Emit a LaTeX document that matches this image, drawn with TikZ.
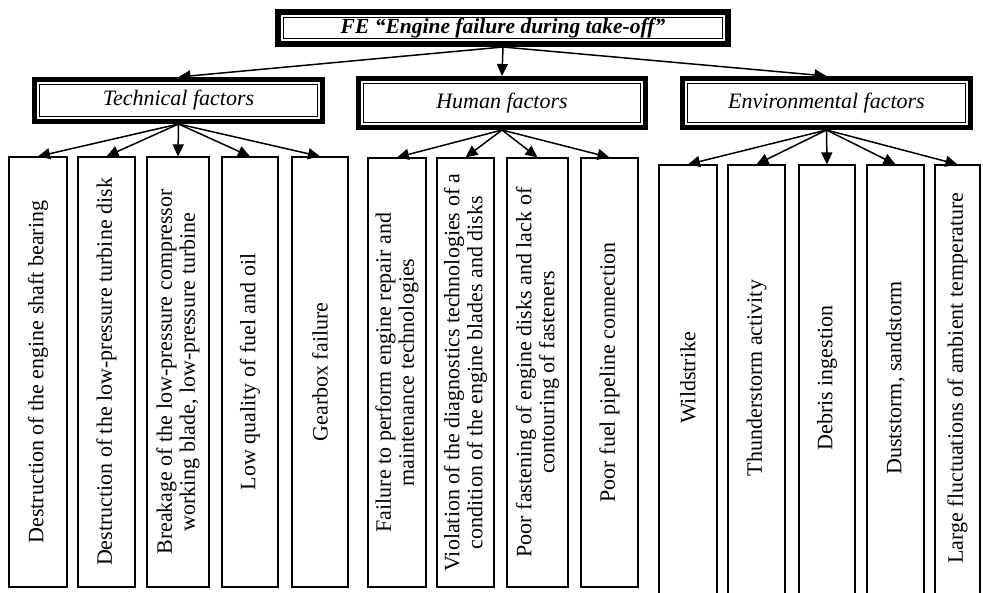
\documentclass[tikz,border=0pt]{standalone}
\usepackage{fontspec}
\setmainfont{Liberation Serif}
\usetikzlibrary{arrows.meta}
\newcommand\innerframe[2]{\draw[line width=0.9pt] ([shift={(#2,-#2)}]#1.north west) rectangle ([shift={(-#2,#2)}]#1.south east);}
\begin{document}
\begin{tikzpicture}[x=1pt,y=-1pt,
  framebox/.style={draw, line width=5pt, fill=white, inner sep=0pt, font=\fontsize{22}{24}\selectfont\itshape},
  topbox/.style={framebox, line width=6pt, font=\fontsize{21.5}{24}\selectfont\bfseries\itshape},
  cbox/.style={draw, line width=1.2pt, inner sep=0pt, minimum width=#1},
  tbox/.style={cbox=#1, minimum height=430},
  hbox/.style={cbox=#1, minimum height=429},
  ebox/.style={cbox=#1, minimum height=435},
  ctext/.style={rotate=90, align=center, inner sep=0pt, font=\fontsize{22}{23}\selectfont},
  arr/.style={line width=1.5pt, -{Triangle[length=12pt,width=11pt]}}]
\useasboundingbox (0,0) rectangle (983,592);
\clip (0,0) rectangle (983,592);
% top and factor boxes
\node[topbox, minimum width=450, minimum height=32] (top) at (503,28) {FE “Engine failure during take-off”};
\node[framebox, minimum width=288, minimum height=42] (tech) at (178.5,100.5) {Technical factors};
\node[framebox, minimum width=287, minimum height=49] (hum) at (502,103) {Human factors};
\node[framebox, minimum width=288, minimum height=49] (env) at (826.5,103) {Environmental factors};
\innerframe{top}{8.5pt}
\innerframe{tech}{7.5pt}
\innerframe{hum}{7.5pt}
\innerframe{env}{7.5pt}
% children boxes
\node[tbox=58] (t1) at (38,372) {};
\node[tbox=57] (t2) at (106.5,372) {};
\node[tbox=62] (t3) at (178,372) {};
\node[tbox=56] (t4) at (250,372) {};
\node[tbox=56] (t5) at (320,372) {};
\node[hbox=58] (h1) at (397,372.5) {};
\node[hbox=57] (h2) at (465.5,372.5) {};
\node[hbox=61] (h3) at (537.5,372.5) {};
\node[hbox=57] (h4) at (609.5,372.5) {};
\node[ebox=58] (e1) at (688,382.5) {};
\node[ebox=57] (e2) at (756.5,382.5) {};
\node[ebox=56] (e3) at (827,382.5) {};
\node[ebox=57] (e4) at (895.5,382.5) {};
\node[ebox=45] (e5) at (957.5,382.5) {};
% texts
\node[ctext] (t1l) at (t1) {Destruction of the engine shaft bearing};
\node[ctext] (t2l) at (t2) {Destruction of the low-pressure turbine disk};
\node[ctext] (t3l) at (t3) {Breakage of the low-pressure compressor\\working blade, low-pressure turbine};
\node[ctext] (t4l) at (t4) {Low quality of fuel and oil};
\node[ctext] (t5l) at (t5) {Gearbox failure};
\node[ctext] (h1l) at (h1) {Failure to perform engine repair and\\maintenance technologies};
\node[ctext] (h2l) at (h2) {Violation of the diagnostics technologies of a\\condition of the engine blades and disks};
\node[ctext] (h3l) at (h3) {Poor fastening of engine disks and lack of\\contouring of fasteners};
\node[ctext] (h4l) at (h4) {Poor fuel pipeline connection};
\node[ctext] (e1l) at (688,378) {Wildstrike};
\node[ctext] (e2l) at (756.5,378) {Thunderstorm activity};
\node[ctext] (e3l) at (827,378) {Debris ingestion};
\node[ctext] (e4l) at (895.5,378) {Duststorm, sandstorm};
\node[ctext] (e5l) at (957.5,378) {Large fluctuations of ambient temperature};
% arrows
\draw[arr] (top.south) -- (tech.north);
\draw[arr] (top.south) -- (hum.north);
\draw[arr] (top.south) -- (env.north);
\foreach \c in {t1,t2,t3,t4,t5} \draw[arr] (tech.south) -- (\c.north);
\foreach \c in {h1,h2,h3,h4} \draw[arr] (hum.south) -- (\c.north);
\foreach \c in {e1,e2,e3,e4,e5} \draw[arr] (env.south) -- (\c.north);
\end{tikzpicture}
\end{document}
